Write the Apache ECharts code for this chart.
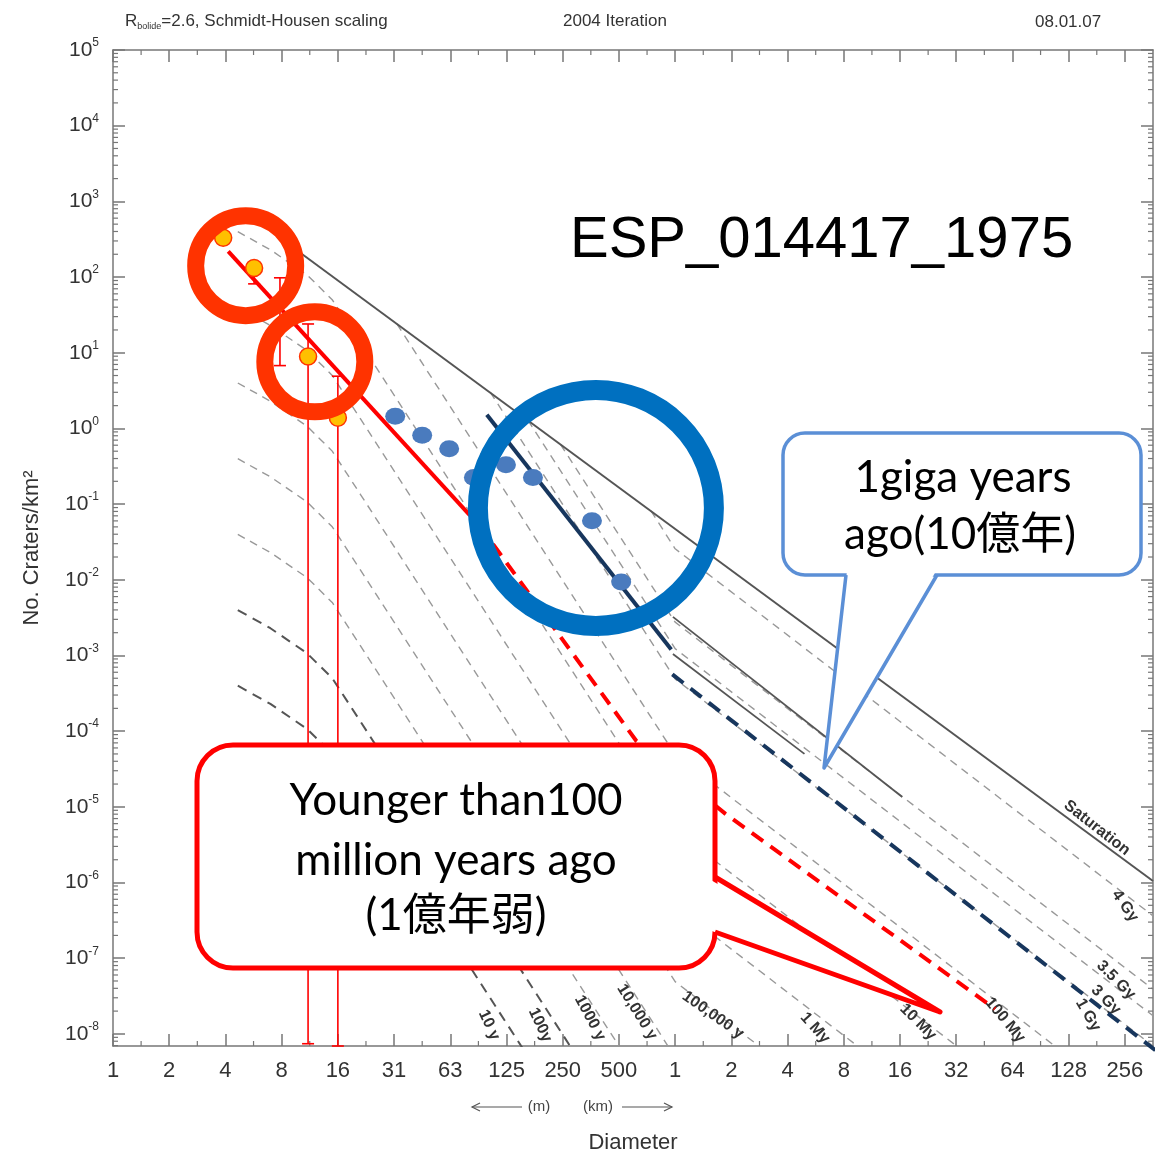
<!DOCTYPE html>
<html>
<head>
<meta charset="utf-8">
<script src="https://cdn.jsdelivr.net/npm/echarts@6.0.0/dist/echarts.min.js"></script>
<style>
html,body{margin:0;padding:0;background:#ffffff;}
#chart{width:1162px;height:1159px;}
</style>
</head>
<body>
<div id="chart"></div>
<script>
// ---------------- data (x = log2(D / 1 m), y = log10(N per km²)) ----------------
const xTickLabels = ['1','2','4','8','16','31','63','125','250','500','1','2','4','8','16','32','64','128','256'];
const yTickExponents = [-8,-7,-6,-5,-4,-3,-2,-1,0,1,2,3,4,5];

const iso10y   = [[2.22,-3.40],[2.8,-3.64],[3.45,-3.97],[3.9,-4.30],[4.4,-4.87],[7.2,-8.09],[7.4,-8.32]];
const iso100y  = [[2.22,-2.40],[2.8,-2.64],[3.45,-2.97],[3.9,-3.30],[4.4,-3.87],[8.0,-8.01],[8.3,-8.36]];
const iso1000y = [[2.22,-1.40],[2.8,-1.64],[3.45,-1.97],[3.9,-2.30],[4.4,-2.87],[8.8,-7.93],[9.1,-8.27]];
const iso10ky  = [[2.22,-0.40],[2.8,-0.64],[3.45,-0.97],[3.9,-1.30],[4.4,-1.87],[9.7,-7.96],[10.0,-8.31]];
const iso100ky = [[2.22,0.60],[2.8,0.36],[3.45,0.03],[3.9,-0.30],[4.4,-0.87],[10.0,-7.31],[11.7,-8.28]];
const iso1My   = [[2.22,1.60],[2.8,1.36],[3.45,1.03],[3.9,0.70],[4.4,0.13],[10.0,-6.31],[13.4,-8.25]];
const iso10My  = [[2.22,2.60],[2.8,2.36],[3.45,2.03],[3.9,1.70],[4.4,1.13],[10.0,-5.31],[15.2,-8.27]];
const iso100My = [[5.05,1.38],[10.0,-4.31],[17.0,-8.30]];
const iso1Gy   = [[6.71,0.48],[10.0,-3.31],[18.5,-8.16]];
const iso3Gy   = [[7.38,0.11],[10.0,-2.91],[18.5,-7.76]];
const iso35Gy  = [[7.96,-0.21],[10.0,-2.56],[18.5,-7.41]];
const iso4Gy   = [[9.57,-1.09],[10.0,-1.59],[18.5,-6.44]];
const solid3Gy  = [[9.96,-2.98],[12.30,-4.30]];
const solid35Gy = [[9.96,-2.49],[14.04,-4.87]];
const saturation = [[3.24,2.37],[18.5,-5.98]];

const redFit     = [[2.05,2.34],[6.35,-1.15]];
const redDashed  = [[6.76,-1.53],[9.31,-4.13],[10.89,-5.09],[15.69,-7.67]];
const navyFit    = [[6.65,0.18],[9.93,-2.92]];
const navyDashed = [[9.95,-3.25],[18.67,-8.29]];

const blueCounts   = [[5.02,0.16],[5.50,-0.09],[5.98,-0.27],[6.42,-0.65],[6.99,-0.48],[7.47,-0.65],[8.52,-1.22],[9.04,-2.03]];
const orangeCounts = [[1.96,2.52],[2.51,2.12],[3.47,0.95],[4.00,0.14]];
// [x, low, high]
const errorBars = [[2.51,1.91,2.12],[2.97,0.83,1.99],[3.47,-8.13,1.38],[4.00,-8.16,0.69]];

const redRings  = [[2.36,2.15],[3.59,0.88]];
const blueRings = [[8.59,-1.05]];

const isoLabelTexts = ['10 y','100y','1000 y','10,000 y','100,000 y','1 My','10 My','100 My','1 Gy','3 Gy','3.5 Gy','4 Gy','Saturation'];

// ---------------- layout ----------------
const XMAX = 18.5, YMIN = -8.16, YMAX = 5;
const SANS = '"Liberation Sans", Arial, Helvetica, sans-serif';
const CFONT = 'Lato, "Noto Sans CJK JP", sans-serif';
const AXC = '#777';
const isoLabelLayout = [
  [489,1025,65],[540,1025,65],[590,1018,62],[637,1012,58],[713,1015,35],
  [815,1028,48],[918,1022,45],[1005,1020,50],[1088,1015,60],[1106,1000,45],
  [1116,980,45],[1125,906,55],[1097,828,38]
];

function iso(data, dark) {
  return {type:'line', data, symbol:'none', silent:true, z:2, animation:false,
    lineStyle:{color: dark ? '#555' : '#999', width: dark ? 2 : 1.4, type: dark ? [10,7] : [8,6]}};
}
function solid(data, color, width, z, dash, clip) {
  return {type:'line', data, symbol:'none', silent:true, z, clip: clip !== false,
    lineStyle:{color, width, type: dash || 'solid'}};
}

const xTickValues = xTickLabels.map((_, i) => i);

const option = {
  animation:false,
  backgroundColor:'#ffffff',
  grid:{left:113, right:9, top:50, bottom:107},
  xAxis:[
    {type:'value', min:0, max:XMAX, position:'bottom',
     axisLine:{onZero:false, lineStyle:{color:AXC, width:1.5}},
     axisTick:{inside:true, length:12, customValues:xTickValues, lineStyle:{color:AXC, width:1.5}},
     axisLabel:{customValues:xTickValues, formatter:v => xTickLabels[Math.round(v)], fontSize:22, color:'#333', margin:14, fontFamily:SANS},
     splitLine:{show:false},
     name:'Diameter', nameLocation:'middle', nameGap:86,
     nameTextStyle:{fontSize:22, color:'#333', fontFamily:SANS}},
    {type:'value', min:0, max:XMAX, position:'top',
     axisLine:{onZero:false, lineStyle:{color:AXC, width:1.5}},
     axisTick:{inside:true, length:12, customValues:xTickValues, lineStyle:{color:AXC, width:1.5}},
     axisLabel:{show:false}, splitLine:{show:false}}
  ],
  yAxis:[
    {type:'value', min:YMIN, max:YMAX, position:'left',
     axisLine:{onZero:false, lineStyle:{color:AXC, width:1.5}},
     axisTick:{inside:true, length:12, customValues:yTickExponents, lineStyle:{color:AXC, width:1.5}},
     axisLabel:{customValues:yTickExponents, margin:14,
       formatter:v => '{b|10}{s|' + v + '}',
       rich:{b:{fontSize:21, lineHeight:26, color:'#333', fontFamily:SANS},
             s:{fontSize:12, lineHeight:13, verticalAlign:'top', color:'#333', fontFamily:SANS}}},
     splitLine:{show:false},
     name:'No. Craters/km²', nameLocation:'middle', nameGap:70, nameRotate:90,
     nameTextStyle:{fontSize:22, color:'#333', fontFamily:SANS}},
    {type:'value', min:YMIN, max:YMAX, position:'right',
     axisLine:{onZero:false, lineStyle:{color:AXC, width:1.5}},
     axisTick:{inside:true, length:12, customValues:yTickExponents, lineStyle:{color:AXC, width:1.5}},
     axisLabel:{show:false}, splitLine:{show:false}}
  ],
  series:[
    iso(iso10y, true), iso(iso100y, true), iso(iso1000y), iso(iso10ky), iso(iso100ky),
    iso(iso1My), iso(iso10My), iso(iso100My), iso(iso1Gy), iso(iso3Gy), iso(iso35Gy), iso(iso4Gy),
    solid(solid3Gy, '#555', 1.8, 2), solid(solid35Gy, '#555', 1.8, 2),
    solid(saturation, '#555', 2, 2),
    solid(redFit, '#FF0000', 4, 3),
    solid(redDashed, '#FF0000', 4, 3, [14,9]),
    solid(navyFit, '#17365D', 4, 3),
    solid(navyDashed, '#17365D', 4, 3, [14,9], false),
    {type:'custom', silent:true, z:4, data:errorBars, encode:{x:0, y:[1,2]},
     renderItem:(params, api) => {
       const x = api.value(0), p1 = api.coord([x, api.value(1)]), p2 = api.coord([x, api.value(2)]);
       const st = {stroke:'#FF0000', lineWidth:1.6}, w = 6;
       return {type:'group', children:[
         {type:'line', shape:{x1:p1[0], y1:p1[1], x2:p2[0], y2:p2[1]}, style:st},
         {type:'line', shape:{x1:p1[0]-w, y1:p1[1], x2:p1[0]+w, y2:p1[1]}, style:st},
         {type:'line', shape:{x1:p2[0]-w, y1:p2[1], x2:p2[0]+w, y2:p2[1]}, style:st}]};
     }},
    {type:'scatter', data:blueCounts, symbol:'circle', symbolSize:[20,17], silent:true, z:4,
     itemStyle:{color:'#4A7BBE', opacity:1}},
    {type:'scatter', data:orangeCounts, symbol:'circle', symbolSize:17, silent:true, z:5,
     itemStyle:{color:'#FFC000', borderColor:'#FF3300', borderWidth:1.5, opacity:1}},
    {type:'scatter', data:redRings, symbol:'circle', symbolSize:100, silent:true, z:6,
     itemStyle:{color:'rgba(0,0,0,0)', borderColor:'#FF3300', borderWidth:17, opacity:1}},
    {type:'scatter', data:blueRings, symbol:'circle', symbolSize:236, silent:true, z:6,
     itemStyle:{color:'rgba(0,0,0,0)', borderColor:'#0070C0', borderWidth:20, opacity:1}},
    // minor (logarithmic / half-octave) frame ticks
    {type:'custom', silent:true, z:3, clip:false, data:[[0,0]],
     renderItem:(params, api) => {
       const ch = [], st = {stroke:AXC, lineWidth:1.2};
       const x0 = api.coord([0,0])[0], x1 = api.coord([XMAX,0])[0];
       const yb = api.coord([0,YMIN])[1], yt = api.coord([0,YMAX])[1];
       for (let d = -9; d < YMAX; d++) for (let k = 2; k < 10; k++) {
         const e = d + Math.log10(k);
         if (e <= YMIN || e >= YMAX) continue;
         const y = api.coord([0,e])[1];
         ch.push({type:'line', shape:{x1:x0, y1:y, x2:x0+5, y2:y}, style:st});
         ch.push({type:'line', shape:{x1:x1, y1:y, x2:x1-5, y2:y}, style:st});
       }
       for (let i = 0; i < xTickLabels.length - 1; i++) {
         const x = api.coord([i+0.5,0])[0];
         ch.push({type:'line', shape:{x1:x, y1:yb, x2:x, y2:yb-5}, style:st});
         ch.push({type:'line', shape:{x1:x, y1:yt, x2:x, y2:yt+5}, style:st});
       }
       return {type:'group', children:ch};
     }}
  ],
  graphic:[]
};

// ---- annotation graphics ----
const g = [];
// header
g.push({type:'text', x:125, y:21, z:40, style:{
  text:'{r|R}{s|bolide}{r|=2.6, Schmidt-Housen scaling}', verticalAlign:'middle', align:'left',
  rich:{r:{fontSize:17, lineHeight:20, fontFamily:SANS, fill:'#333'},
        s:{fontSize:9, lineHeight:10, verticalAlign:'bottom', fontFamily:SANS, fill:'#333'}}}});
g.push({type:'text', x:563, y:21, z:40, style:{text:'2004 Iteration', font:'17px ' + SANS, fill:'#333', verticalAlign:'middle'}});
g.push({type:'text', x:1035, y:22, z:40, style:{text:'08.01.07', font:'17px ' + SANS, fill:'#333', verticalAlign:'middle'}});
// image id
g.push({type:'text', x:570, y:241, z:40, style:{text:'ESP_014417_1975', font:'58px ' + SANS, fill:'#000', verticalAlign:'middle'}});
// (m) (km) arrows
g.push({type:'text', x:539, y:1107, z:40, style:{text:'(m)', font:'15px ' + SANS, fill:'#444', align:'center', verticalAlign:'middle'}});
g.push({type:'text', x:598, y:1107, z:40, style:{text:'(km)', font:'15px ' + SANS, fill:'#444', align:'center', verticalAlign:'middle'}});
g.push({type:'polyline', z:40, shape:{points:[[522,1107],[472,1107]]}, style:{stroke:'#555', lineWidth:1.2}});
g.push({type:'polyline', z:40, shape:{points:[[480,1103],[472,1107],[480,1111]]}, style:{stroke:'#555', lineWidth:1.2, fill:null}});
g.push({type:'polyline', z:40, shape:{points:[[622,1107],[672,1107]]}, style:{stroke:'#555', lineWidth:1.2}});
g.push({type:'polyline', z:40, shape:{points:[[664,1103],[672,1107],[664,1111]]}, style:{stroke:'#555', lineWidth:1.2, fill:null}});
// isochron labels
isoLabelTexts.forEach((t, i) => {
  const [x, y, deg] = isoLabelLayout[i];
  g.push({type:'text', x, y, rotation:-deg * Math.PI / 180, z:3,
    style:{text:t, font:'bold 16px ' + SANS, fill:'#333', align:'center', verticalAlign:'middle'}});
});
// red callout
g.push({type:'rect', z:30, shape:{x:197, y:745, width:518, height:223, r:36},
  style:{fill:'#fff', stroke:'#FF0000', lineWidth:5}});
g.push({type:'polygon', z:31, shape:{points:[[709,879],[940,1012],[709,930]]}, style:{fill:'#fff'}});
g.push({type:'polyline', z:32, shape:{points:[[715,877],[940,1012],[715,932]]},
  style:{stroke:'#FF0000', lineWidth:5, fill:null, lineJoin:'round'}});
[['Younger than100',801],['million years ago',861],['(1億年弱)',916]].forEach(([t,y]) => {
  g.push({type:'text', x:456, y, z:40, style:{text:t, font:'44px ' + CFONT, fill:'#000', align:'center', verticalAlign:'middle'}});
});
// blue callout
g.push({type:'rect', z:30, shape:{x:783, y:433, width:358, height:142, r:22},
  style:{fill:'#fff', stroke:'#5B8FD6', lineWidth:3.5}});
g.push({type:'polygon', z:31, shape:{points:[[847,571],[824,768],[936,571]]}, style:{fill:'#fff'}});
g.push({type:'polyline', z:32, shape:{points:[[846,575],[824,768],[937,575]]},
  style:{stroke:'#5B8FD6', lineWidth:3.5, fill:null, lineJoin:'round'}});
[['1giga years',963,478],['ago(10億年)',960,535]].forEach(([t,x,y]) => {
  g.push({type:'text', x, y, z:40, style:{text:t, font:'44px ' + CFONT, fill:'#000', align:'center', verticalAlign:'middle'}});
});
option.graphic = g;

const chart = echarts.init(document.getElementById('chart'), null, {renderer:'canvas'});
chart.setOption(option);
</script>
</body>
</html>
